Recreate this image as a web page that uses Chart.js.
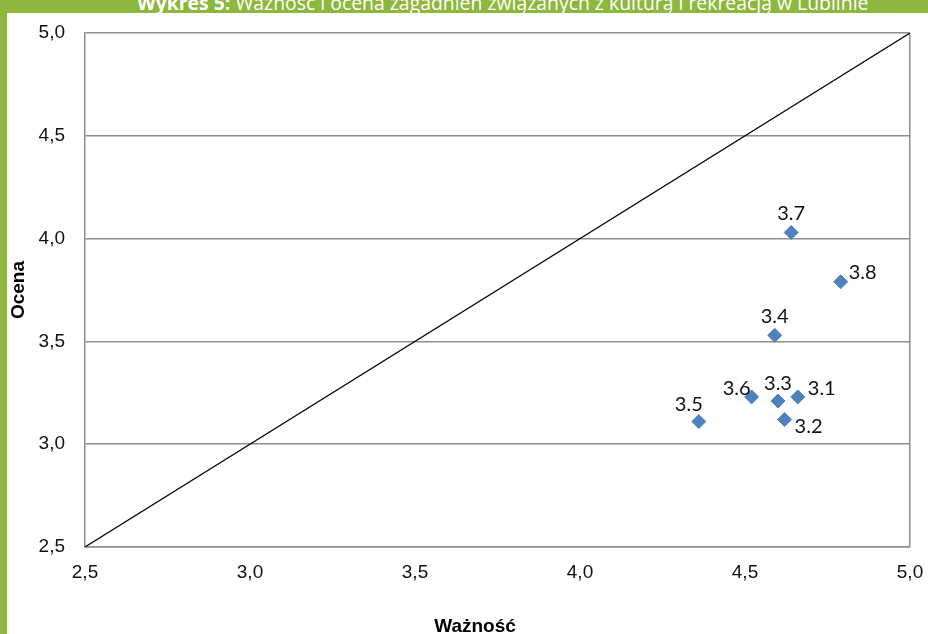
<!DOCTYPE html>
<html>
<head>
<meta charset="utf-8">
<script src="https://cdn.jsdelivr.net/npm/chart.js@4.4.1/dist/chart.umd.min.js"></script>
<style>
    body { margin: 0; width: 928px; height: 634px; background: #8db73d; position: relative; overflow: hidden; }
    #pasek { position: absolute; left: 0; top: 0; width: 928px; height: 13px; overflow: hidden; }
    #tytul { position: absolute; left: 137px; top: -7px; white-space: nowrap; color: #fff; font-family: "Open Sans", sans-serif; font-size: 19.4px; line-height: 19px; }
    #panel { position: absolute; left: 7px; top: 13px; width: 921px; height: 621px; background: #fff; }
    canvas { display: block; }
</style>
</head>
<body>
<div id="pasek"><span id="tytul"><b>Wykres 5:</b> Ważność i ocena zagadnień związanych z kulturą i rekreacją w Lublinie</span></div>
<div id="panel"><canvas id="wykres" width="921" height="621"></canvas></div>
<script>
const kody = ["3.1", "3.2", "3.3", "3.4", "3.5", "3.6", "3.7", "3.8"];

const waznosc = [4.66, 4.62, 4.6, 4.59, 4.36, 4.52, 4.64, 4.79];

const ocena = [3.23, 3.12, 3.21, 3.53, 3.11, 3.23, 4.03, 3.79];

const przekatna = [2.5, 5.0];

const wartosciOsi = [2.5, 3.0, 3.5, 4.0, 4.5, 5.0];

const etykietyOsi = ["2,5", "3,0", "3,5", "4,0", "4,5", "5,0"];

const szary = "#8e8e8e";

// przesuniecia podpisow punktow [dx, dy, wyrownanie]
const podpisy = [
    [10, -8, "left"],
    [10, 7, "left"],
    [0, -17, "center"],
    [0, -19, "center"],
    [-10, -17, "center"],
    [-1, -8, "right"],
    [0, -19, "center"],
    [8, -9, "left"],
];

const etykietyPunktow = {
    id: "etykietyPunktow",
    afterDatasetsDraw(chart) {
        const ctx = chart.ctx;
        const meta = chart.getDatasetMeta(1);

        ctx.save();
        ctx.font = "20px Lato, sans-serif";
        ctx.fillStyle = "#111";
        ctx.textBaseline = "middle";

        meta.data.forEach((pkt, i) => {
            const [dx, dy, al] = podpisy[i];
            ctx.textAlign = al;
            ctx.fillText(kody[i], pkt.x + dx, pkt.y + dy);
        });

        ctx.restore();
    },
};

const tytulX = {
    id: "tytulX",
    afterDraw(chart) {
        const ctx = chart.ctx;
        ctx.save();
        ctx.font = "bold 19px 'Liberation Sans', Arial, sans-serif";
        ctx.fillStyle = "#000";
        ctx.textAlign = "center";
        ctx.textBaseline = "alphabetic";
        ctx.fillText("Ważność", 468, 619);
        ctx.restore();
    },
};

function ustawTicki(skala) {
    skala.ticks = wartosciOsi.map((v) => ({ value: v }));
}

function bezOdstepow(s) {
    s.paddingTop = 0;
    s.paddingBottom = 0;
    s.paddingLeft = 0;
    s.paddingRight = 0;
}

const czcionkaOsi = { family: "'Liberation Sans', Arial, sans-serif", size: 19 };

new Chart(document.getElementById("wykres"), {
    type: "scatter",
    data: {
        datasets: [
            {
                type: "line",
                data: przekatna.map((v) => ({ x: v, y: v })),
                borderColor: "#000",
                borderWidth: 1.2,
                pointRadius: 0,
                fill: false,
            },
            {
                data: waznosc.map((w, i) => ({ x: w, y: ocena[i] })),
                backgroundColor: "#4f81bd",
                borderColor: "#4f81bd",
                borderWidth: 1,
                pointStyle: "rectRot",
                pointRadius: 7,
            },
        ],
    },
    options: {
        responsive: false,
        animation: false,
        layout: { padding: { top: 20, right: 18, left: 0, bottom: 0 } },
        plugins: {
            legend: { display: false },
            tooltip: { enabled: false },
        },
        scales: {
            x: {
                type: "linear",
                min: 2.5,
                max: 5,
                afterFit: (s) => { s.height = 87; bezOdstepow(s); },
                afterBuildTicks: ustawTicki,
                grid: {
                    drawTicks: false,
                    lineWidth: 1.5,
                    color: (c) => (c.tick && c.tick.value === 5 ? szary : "transparent"),
                },
                border: { display: true, color: szary, width: 1.5 },
                ticks: {
                    padding: 14,
                    color: "#111",
                    font: czcionkaOsi,
                    maxRotation: 0,
                    callback: (v, i) => etykietyOsi[i],
                },
            },
            y: {
                type: "linear",
                min: 2.5,
                max: 5,
                afterFit: (s) => { s.width = 78; bezOdstepow(s); },
                afterBuildTicks: ustawTicki,
                grid: { drawTicks: false, lineWidth: 1.5, color: szary },
                border: { display: true, color: szary, width: 1.5 },
                ticks: {
                    padding: 20,
                    color: "#111",
                    font: czcionkaOsi,
                    callback: (v, i) => etykietyOsi[i],
                },
                title: {
                    display: true,
                    text: "Ocena",
                    color: "#000",
                    padding: 0,
                    font: { family: "'Liberation Sans', Arial, sans-serif", size: 19, weight: "bold" },
                },
            },
        },
    },
    plugins: [etykietyPunktow, tytulX],
});
</script>
</body>
</html>
